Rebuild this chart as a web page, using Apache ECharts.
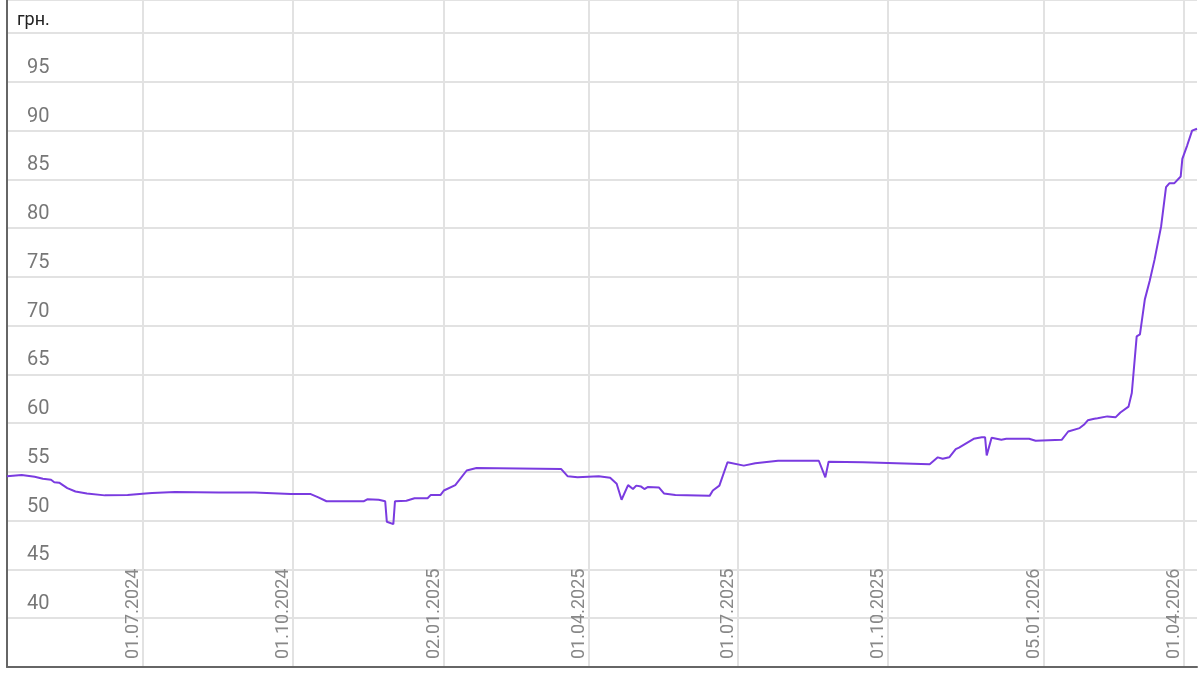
<!DOCTYPE html>
<html>
<head>
<meta charset="utf-8">
<script src="https://cdn.jsdelivr.net/npm/echarts@6/dist/echarts.min.js"></script>
<style>
    html, body { margin: 0; padding: 0; background: #fff; }
    #chart { width: 1200px; height: 679px; }
</style>
</head>
<body>
<div id="chart"></div>
<script>
// price points
const dates = [
    '2024-04-09', '2024-04-18', '2024-04-26', '2024-05-01', '2024-05-06', '2024-05-08', '2024-05-11',
    '2024-05-16', '2024-05-21', '2024-05-28', '2024-06-08', '2024-06-22', '2024-07-03', '2024-07-07',
    '2024-07-21', '2024-08-17', '2024-09-08', '2024-09-30', '2024-10-12', '2024-10-17', '2024-10-22',
    '2024-11-14', '2024-11-16', '2024-11-23', '2024-11-27', '2024-11-28', '2024-12-02', '2024-12-03',
    '2024-12-10', '2024-12-15', '2024-12-23', '2024-12-25', '2024-12-31', '2025-01-02', '2025-01-09',
    '2025-01-16', '2025-01-22', '2025-03-15', '2025-03-19', '2025-03-25', '2025-04-07', '2025-04-14',
    '2025-04-18', '2025-04-21', '2025-04-25', '2025-04-28', '2025-04-30', '2025-05-03', '2025-05-05',
    '2025-05-07', '2025-05-14', '2025-05-17', '2025-05-24', '2025-06-14', '2025-06-16', '2025-06-20',
    '2025-06-25', '2025-07-05', '2025-07-12', '2025-07-26', '2025-08-20', '2025-08-24', '2025-08-26',
    '2025-09-16', '2025-10-27', '2025-11-01', '2025-11-04', '2025-11-08', '2025-11-12', '2025-11-14',
    '2025-11-23', '2025-11-28', '2025-11-30', '2025-12-01', '2025-12-04', '2025-12-10', '2025-12-13',
    '2025-12-27', '2025-12-31', '2026-01-16', '2026-01-20', '2026-01-27', '2026-01-30', '2026-02-01',
    '2026-02-05', '2026-02-07', '2026-02-13', '2026-02-18', '2026-02-21', '2026-02-26', '2026-02-28',
    '2026-03-03', '2026-03-05', '2026-03-08', '2026-03-11', '2026-03-14', '2026-03-18', '2026-03-21',
    '2026-03-23', '2026-03-26', '2026-03-30', '2026-03-31', '2026-04-03', '2026-04-06', '2026-04-09'
];
const prices = [
    54.55, 54.7, 54.5, 54.3, 54.2, 53.95, 53.9,
    53.35, 53.0, 52.8, 52.6, 52.65, 52.8, 52.85,
    52.95, 52.9, 52.9, 52.75, 52.75, 52.4, 52.0,
    52.0, 52.2, 52.15, 52.0, 49.9, 49.65, 52.0,
    52.05, 52.3, 52.3, 52.65, 52.65, 53.1, 53.65,
    55.15, 55.4, 55.3, 54.55, 54.45, 54.55, 54.4,
    53.8, 52.15, 53.65, 53.25, 53.6, 53.5, 53.25,
    53.45, 53.4, 52.8, 52.65, 52.55, 53.1, 53.6,
    56.0, 55.65, 55.9, 56.15, 56.15, 54.45, 56.05,
    56.0, 55.8, 56.5, 56.35, 56.5, 57.35, 57.5,
    58.4, 58.55, 58.55, 56.7, 58.5, 58.3, 58.4,
    58.4, 58.2, 58.3, 59.15, 59.5, 59.9, 60.3,
    60.45, 60.5, 60.7, 60.6, 61.1, 61.7, 63.1,
    68.9, 69.1, 72.7, 74.6, 76.8, 80.2, 84.2,
    84.6, 84.6, 85.3, 87.1, 88.5, 90.0, 90.2
];
const tickDates = ['2024-07-01', '2024-10-01', '2025-01-02', '2025-04-01',
    '2025-07-01', '2025-10-01', '2026-01-05', '2026-04-01'];

const pad = n => (n < 10 ? '0' : '') + n;
const ts = d => Date.parse(d);
const tickValues = tickDates.map(ts);

let myChart = echarts.init(document.getElementById('chart'));

let option = {
    animation: false,
    title: {
        text: 'грн.',
        left: 12,
        top: 6,
        textStyle: {color: '#222', fontSize: 18, fontWeight: 'normal', fontFamily: 'Roboto'}
    },
    grid: {left: 7, right: 3, top: 0, bottom: 12},
    xAxis: {
        type: 'value',
        min: ts('2024-04-09'),
        max: ts('2026-04-09'),
        axisLine: {lineStyle: {color: '#666', width: 2}},
        axisTick: {show: false, customValues: tickValues},
        axisLabel: {
            inside: true,
            rotate: 90,
            margin: 8,
            verticalAlign: 'bottom',
            color: '#888',
            fontSize: 18,
            fontFamily: 'Roboto',
            customValues: tickValues,
            formatter: function (val)
            {
                let d = new Date(val);
                return pad(d.getUTCDate()) + '.' + pad(d.getUTCMonth() + 1) + '.' + d.getUTCFullYear();
            }
        },
        splitLine: {show: true, lineStyle: {color: '#e2e2e2', width: 2}}
    },
    yAxis: {
        type: 'value',
        min: 35,
        max: 103.4,
        interval: 5,
        axisLine: {show: true, lineStyle: {color: '#666', width: 2}},
        axisTick: {show: false},
        axisLabel: {
            inside: true,
            margin: 20,
            verticalAlign: 'bottom',
            padding: [0, 0, 4, 0],
            color: '#777',
            fontSize: 20,
            fontFamily: 'Roboto',
            formatter: function (val)
            {
                return (val === 35 || val >= 100) ? '' : val;
            }
        },
        splitLine: {lineStyle: {color: '#e2e2e2', width: 2}}
    },
    series: [{
        type: 'line',
        data: dates.map((d, i) => [ts(d), prices[i]]),
        showSymbol: false,
        lineStyle: {color: '#7a3be0', width: 2},
        itemStyle: {color: '#7a3be0'}
    }]
};

myChart.setOption(option);
</script>
</body>
</html>
